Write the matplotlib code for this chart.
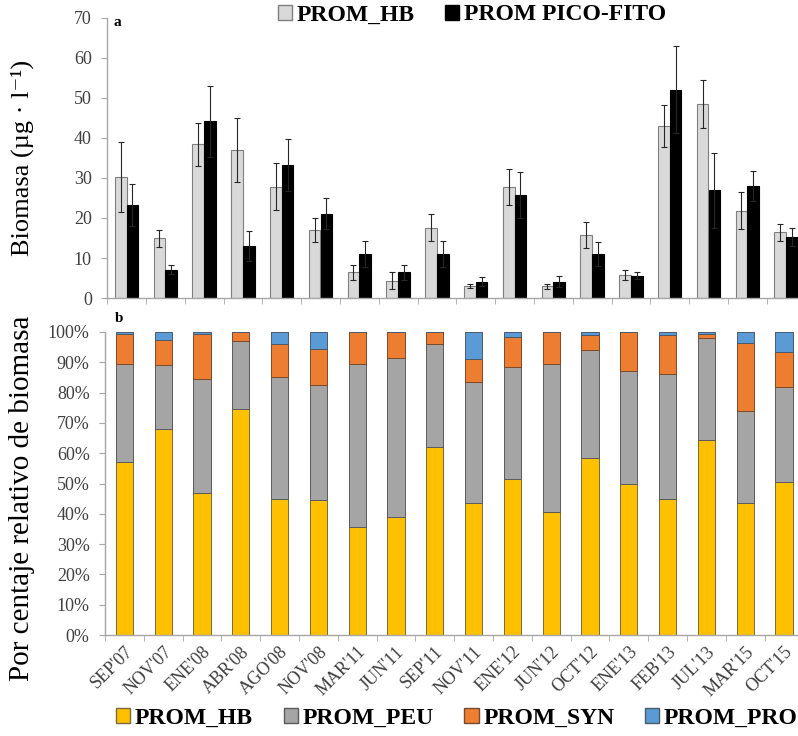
import numpy as np
import matplotlib
matplotlib.use('Agg')
from matplotlib import pyplot as plt
from matplotlib.patches import Patch

plt.rcParams['font.family'] = ['Liberation Serif', 'DejaVu Serif']

meses = ["SEP'07", "NOV'07", "ENE'08", "ABR'08", "AGO'08", "NOV'08", "MAR'11", "JUN'11", "SEP'11",
         "NOV'11", "ENE'12", "JUN'12", "OCT'12", "ENE'13", "FEB'13", "JUL'13", "MAR'15", "OCT'15"]

# panel a: biomasa (ug/l)
hb = [30.3, 14.9, 38.4, 37.0, 27.8, 17.0, 6.4, 4.3, 17.6, 3.1, 27.8, 2.9, 15.7, 5.7, 43.0, 48.4, 21.8, 16.4]
hb_err = [8.7, 2.1, 5.4, 8.0, 5.9, 2.9, 1.9, 2.1, 3.4, 0.5, 4.5, 0.6, 3.3, 1.3, 5.3, 6.0, 4.6, 2.1]
pico = [23.2, 7.1, 44.2, 13.0, 33.2, 21.1, 11.0, 6.4, 11.0, 4.1, 25.8, 4.1, 11.0, 5.6, 52.1, 26.9, 28.0, 15.3]
pico_err = [5.2, 1.2, 8.9, 3.8, 6.5, 3.8, 3.3, 1.9, 3.3, 1.1, 5.8, 1.3, 2.9, 0.9, 10.8, 9.4, 3.7, 2.3]

# panel b: porcentaje relativo
p_hb = [57, 68, 47, 74.5, 45, 44.5, 35.5, 39, 62, 43.5, 51.5, 40.5, 58.5, 50, 45, 64.5, 43.5, 50.5]
p_peu = [32.5, 21, 37.5, 22.5, 40, 38, 54, 52.5, 34, 40, 37, 49, 35.5, 37, 41, 33.5, 30.5, 31.5]
p_syn = [10, 8.5, 15, 3, 11, 12, 10.5, 8.5, 4, 7.5, 10, 10.5, 5, 13, 13, 1.5, 22.5, 11.5]
p_pro = [0.5, 2.5, 0.5, 0, 4, 5.5, 0, 0, 0, 9, 1.5, 0, 1, 0, 1, 0.5, 3.5, 6.5]

W, H = 798, 736
fig = plt.figure(figsize=(W/100, H/100), dpi=100)
x = np.arange(len(meses))
axcol = '#a6a6a6'
tickcol = '#404040'

def style(ax):
    for s in ['top', 'right']:
        ax.spines[s].set_visible(False)
    for s in ['left', 'bottom']:
        ax.spines[s].set_color(axcol)
        ax.spines[s].set_linewidth(1.0)
    ax.tick_params(axis='y', colors=axcol, labelcolor=tickcol, labelsize=13, length=4, pad=7, direction='out')
    ax.set_xlim(-0.5, len(meses) - 0.5)
    ax.set_xticks(np.arange(len(meses) + 1) - 0.5, minor=True)
    ax.tick_params(axis='x', which='minor', colors=axcol, length=4, direction='out')
    ax.tick_params(axis='x', which='major', length=0)

# ---- a ----
ax1 = fig.add_axes([107.1/W, 1 - 298/H, 698.4/W, 280/H])
w = 0.3
ax1.bar(x - w/2, hb, w, color='#d9d9d9', edgecolor='#7f7f7f', linewidth=0.8, label='PROM_HB',
        yerr=hb_err, error_kw=dict(ecolor='#262626', elinewidth=0.8, capsize=2.5, capthick=0.8))
ax1.bar(x + w/2, pico, w, color='black', edgecolor='black', linewidth=0.8, label='PROM PICO-FITO',
        yerr=pico_err, error_kw=dict(ecolor='#262626', elinewidth=0.8, capsize=2.5, capthick=0.8))
style(ax1)
ax1.set_ylim(0, 70)
ax1.set_yticks(range(0, 71, 10))
ax1.set_xticks(x)
ax1.set_xticklabels([])
ax1.set_ylabel('Biomasa (µg · l⁻¹)', fontsize=19)
ax1.yaxis.set_label_coords(-0.105, 0.5)
ax1.text(113/W, 1 - 23/H, 'a', transform=fig.transFigure, fontsize=11, fontweight='bold', va='center')
fig.legend(handles=[Patch(facecolor='#d9d9d9', edgecolor='#7f7f7f', label='PROM_HB'),
                    Patch(facecolor='black', edgecolor='black', label='PROM PICO-FITO')],
           loc='center', bbox_to_anchor=(472/W, 1 - 15/H), ncol=2, frameon=False,
           prop=dict(size=17, weight='bold'), handlelength=0.6, handleheight=0.6,
           handletextpad=0.2, columnspacing=1.3, borderpad=0)

# ---- b ----
ax2 = fig.add_axes([105/W, 1 - 635/H, 698.4/W, 303/H])
bw = 0.44
cols = ['#ffc000', '#a5a5a5', '#ed7d31', '#5b9bd5']
edges = ['#7a6a3a', '#5a5a5a', '#7a4a2a', '#4a5a6a']
names = ['PROM_HB', 'PROM_PEU', 'PROM_SYN', 'PROM_PRO']
bottom = np.zeros(len(meses))
for vals, c, e, n in zip([p_hb, p_peu, p_syn, p_pro], cols, edges, names):
    ax2.bar(x, vals, bw, bottom=bottom, color=c, edgecolor=e, linewidth=0.7, label=n)
    bottom += np.array(vals)
style(ax2)
ax2.set_ylim(0, 100)
ax2.set_yticks(range(0, 101, 10))
ax2.set_yticklabels(['%d%%' % v for v in range(0, 101, 10)])
ax2.set_xticks(x)
ax2.set_xticklabels(meses, rotation=45, ha='right', rotation_mode='anchor', fontsize=13, color=tickcol)
ax2.tick_params(axis='x', which='major', pad=6)
ax2.set_ylabel('Por centaje relativo de biomasa', fontsize=21)
ax2.yaxis.set_label_coords(-0.1, 0.45)
ax2.text(115/W, 1 - 318/H, 'b', transform=fig.transFigure, fontsize=11, fontweight='bold', va='center')
fig.legend(handles=[Patch(facecolor=c, edgecolor=e, label=n) for c, e, n in zip(cols, edges, names)],
           loc='center', bbox_to_anchor=(457/W, 1 - 718/H), ncol=4, frameon=False,
           prop=dict(size=17, weight='bold'), handlelength=0.6, handleheight=0.6,
           handletextpad=0.2, columnspacing=1.3, borderpad=0)

fig.savefig('out.png', dpi=100)
